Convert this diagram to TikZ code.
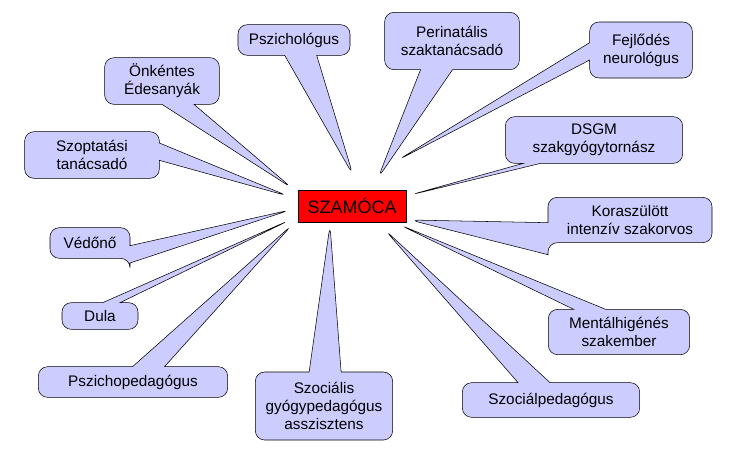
\documentclass[tikz,border=0pt]{standalone}
\usepackage{fontspec}
\setmainfont{Liberation Sans}
\usetikzlibrary{shapes.callouts}
\begin{document}
\begin{tikzpicture}[x=0.75pt,y=-0.75pt,
  bubble/.style={rectangle callout,draw=black,fill={rgb,255:red,204;green,204;blue,255},rounded corners=7pt,align=center,font=\fontsize{11.5}{13.5}\selectfont,inner sep=0pt,callout pointer width=24pt},
  narrow/.style={callout pointer width=13pt},
  centre/.style={draw=black,fill={rgb,255:red,255;green,0;blue,0},font=\fontsize{13.5}{15}\selectfont,minimum width=81pt,minimum height=24pt,inner sep=0pt}]
\useasboundingbox (0,0) rectangle (742,462);
\node[centre] (c) at (352,206) {SZAMÓCA};
\coordinate (t1) at (353,175);
\coordinate (t2) at (378,178);
\coordinate (t3) at (398,160);
\coordinate (t4) at (410,195);
\coordinate (t5) at (410,220);
\coordinate (t6) at (400,225);
\coordinate (t7) at (385,230);
\coordinate (t8) at (330,225);
\coordinate (t9) at (292,225);
\coordinate (t10) at (290,220);
\coordinate (t11) at (290,210);
\coordinate (t12) at (288,196);
\coordinate (t13) at (292,188);
\node[bubble,minimum width=84pt,minimum height=23pt,callout absolute pointer={(t1)}] (b1) at (294,40) {Pszichológus};
\node[bubble,minimum width=101pt,minimum height=43pt,callout absolute pointer={(t2)}] (b2) at (452,41) {Perinatális\\szaktanácsadó};
\node[bubble,narrow,minimum width=77pt,minimum height=42pt,callout absolute pointer={(t3)}] (b3) at (641,50) {Fejlődés\\neurológus};
\node[bubble,narrow,minimum width=133pt,minimum height=35pt,callout absolute pointer={(t4)}] (b4) at (594,140) {DSGM\\szakgyógytornász};
\node[bubble,minimum width=123pt,minimum height=34pt,callout absolute pointer={(t5)}] (b5) at (630,220) {Koraszülött\\intenzív szakorvos};
\node[bubble,minimum width=106pt,minimum height=34pt,callout absolute pointer={(t6)}] (b6) at (619,332) {Mentálhigénés\\szakember};
\node[bubble,minimum width=133pt,minimum height=26pt,callout absolute pointer={(t7)}] (b7) at (551,400) {Szociálpedagógus};
\node[bubble,minimum width=103pt,minimum height=51pt,callout absolute pointer={(t8)}] (b8) at (324,406) {Szociális\\gyógypedagógus\\asszisztens};
\node[bubble,minimum width=142pt,minimum height=23pt,callout absolute pointer={(t9)}] (b9) at (133,382) {Pszichopedagógus};
\node[bubble,narrow,minimum width=57pt,minimum height=20pt,callout absolute pointer={(t10)}] (b10) at (100,316) {Dula};
\node[bubble,narrow,minimum width=60pt,minimum height=23pt,callout absolute pointer={(t11)}] (b11) at (90,243) {Védőnő};
\node[bubble,narrow,minimum width=101pt,minimum height=35pt,callout absolute pointer={(t12)}] (b12) at (92,155) {Szoptatási\\tanácsadó};
\node[bubble,minimum width=86pt,minimum height=35pt,callout absolute pointer={(t13)}] (b13) at (162,81) {Önkéntes\\Édesanyák};
\end{tikzpicture}
\end{document}
